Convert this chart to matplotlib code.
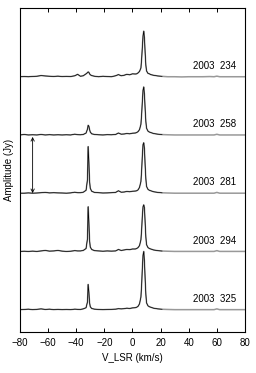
import numpy as np
import matplotlib.pyplot as plt

plt.rcParams['font.family'] = ['Liberation Sans', 'DejaVu Sans']

# velocity grid (km/s), shared by all spectra
vel = [-80, -77, -74, -71, -68, -65, -62, -59, -56, -53,
       -50, -47, -44, -41, -39, -37, -35, -33, -32, -31.5,
       -31, -30.5, -30, -29, -27, -24, -21, -18, -15, -12,
       -10, -8, -6, -4, -2, 0, 2, 3, 4, 5,
       6, 6.5, 7, 7.5, 8, 8.5, 9, 9.5, 10, 11,
       12, 13, 15, 18, 21, 25, 30, 35, 40, 45,
       50, 55, 58, 60, 62, 65, 70, 75, 80]

epochs = ["2003  234", "2003  258", "2003  281", "2003  294", "2003  325"]
offsets = [24, 18, 12, 6, 0]

amp_234 = [0.0, 0.02, 0.0, 0.03, 0.05, 0.12, 0.08, 0.05, 0.03, 0.06,
           0.02, 0.04, 0.02, 0.1, 0.25, 0.05, 0.1, 0.3, 0.42, 0.5,
           0.45, 0.3, 0.2, 0.12, 0.05, 0.0, 0.05, 0.02, 0.0, 0.1,
           0.22, 0.1, 0.15, 0.25, 0.2, 0.3, 0.28, 0.3, 0.4, 0.55,
           0.9, 1.8, 3.0, 4.2, 4.7, 4.0, 2.5, 1.2, 0.6, 0.35,
           0.3, 0.22, 0.15, 0.08, 0.04, 0.0, 0.0, -0.02, 0.0, 0.0,
           0.0, 0.02, 0.0, 0.06, 0.0, 0.0, 0.0, 0.0, 0.0]

amp_258 = [0.0, 0.05, 0.0, 0.02, 0.0, 0.05, 0.0, 0.03, 0.0, 0.02,
           0.0, 0.02, 0.0, 0.08, 0.03, 0.02, 0.05, 0.2, 0.6, 1.0,
           0.9, 0.55, 0.3, 0.12, 0.05, 0.02, 0.0, 0.03, 0.02, 0.05,
           0.2, 0.08, 0.1, 0.15, 0.12, 0.18, 0.2, 0.25, 0.35, 0.55,
           1.1, 2.1, 3.4, 4.6, 4.95, 4.2, 2.7, 1.4, 0.7, 0.4,
           0.3, 0.25, 0.15, 0.08, 0.04, 0.02, 0.0, 0.0, 0.0, 0.0,
           0.0, 0.0, 0.0, 0.07, 0.0, 0.0, 0.0, 0.0, 0.0]

amp_281 = [0.0, 0.0, 0.03, 0.0, 0.02, 0.05, 0.08, 0.03, 0.05, 0.03,
           0.02, 0.0, 0.03, 0.1, 0.05, 0.05, 0.1, 0.3, 1.4, 4.8,
           3.2, 1.2, 0.5, 0.2, 0.08, 0.05, 0.02, 0.03, 0.05, 0.08,
           0.25, 0.1, 0.12, 0.18, 0.15, 0.2, 0.22, 0.25, 0.35, 0.6,
           1.2, 2.3, 3.8, 5.0, 5.2, 4.6, 2.9, 1.5, 0.7, 0.4,
           0.3, 0.25, 0.15, 0.08, 0.04, 0.02, 0.0, 0.0, 0.0, 0.0,
           0.0, 0.0, 0.0, 0.08, 0.0, 0.0, 0.0, 0.0, 0.0]

amp_294 = [0.0, 0.02, 0.0, 0.03, 0.0, 0.05, 0.1, 0.03, 0.05, 0.1,
           0.03, 0.0, 0.02, 0.08, 0.05, 0.05, 0.1, 0.3, 1.3, 4.6,
           3.0, 1.1, 0.45, 0.2, 0.08, 0.05, 0.02, 0.05, 0.03, 0.05,
           0.2, 0.1, 0.15, 0.2, 0.18, 0.25, 0.25, 0.3, 0.4, 0.6,
           1.2, 2.2, 3.6, 4.6, 4.8, 4.5, 3.0, 1.5, 0.7, 0.4,
           0.3, 0.25, 0.15, 0.08, 0.04, 0.02, 0.0, 0.0, 0.0, 0.0,
           0.0, 0.0, 0.0, 0.08, 0.0, 0.0, 0.0, 0.0, 0.0]

amp_325 = [0.0, 0.02, 0.05, 0.0, 0.03, 0.08, 0.02, 0.05, 0.0, 0.03,
           0.0, 0.02, 0.0, 0.05, 0.03, 0.02, 0.08, 0.2, 0.8, 2.6,
           1.8, 0.7, 0.3, 0.12, 0.05, 0.02, 0.0, 0.02, 0.03, 0.05,
           0.1, 0.08, 0.1, 0.15, 0.12, 0.18, 0.2, 0.25, 0.35, 0.6,
           1.3, 2.5, 4.2, 5.6, 6.0, 5.0, 3.2, 1.6, 0.7, 0.4,
           0.3, 0.25, 0.15, 0.08, 0.04, 0.02, 0.0, 0.0, 0.0, 0.0,
           0.0, 0.0, 0.0, 0.08, 0.0, 0.0, 0.0, 0.0, 0.0]

spectra = [amp_234, amp_258, amp_281, amp_294, amp_325]

# scale bar
bar_v = -71
bar_low, bar_high = 12, 17.8

vel = np.array(vel)
fig = plt.figure(figsize=(2.56, 3.73), dpi=100)
ax = fig.add_axes([0.078, 0.110, 0.879, 0.869])

for amp, off, lab in zip(spectra, offsets, epochs):
    y = np.array(amp) + off
    ax.plot(vel, y, color="#999999", lw=1.1)
    m = vel <= 22
    ax.plot(vel[m], y[m], color="black", lw=0.5)
    ax.text(74, off + 0.6, lab, ha="right", va="bottom", fontsize=7)

ax.annotate("", xy=(bar_v, bar_high), xytext=(bar_v, bar_low),
            arrowprops=dict(arrowstyle="<->", lw=0.6, color="black",
                            mutation_scale=6, shrinkA=0, shrinkB=0))

ax.set_xlim(-80, 80)
ax.set_ylim(-2.3, 31.1)
ax.set_xticks(np.arange(-80, 81, 20))
ax.set_yticks([])
ax.tick_params(axis="x", direction="in", top=True, length=3, width=0.7,
               labelsize=7, pad=4)
for s in ax.spines.values():
    s.set_linewidth(0.8)
ax.set_xlabel("V_LSR (km/s)", fontsize=7, labelpad=4)
ax.set_ylabel("Amplitude (Jy)", fontsize=7, labelpad=4)

fig.savefig("out.png", dpi=100)
